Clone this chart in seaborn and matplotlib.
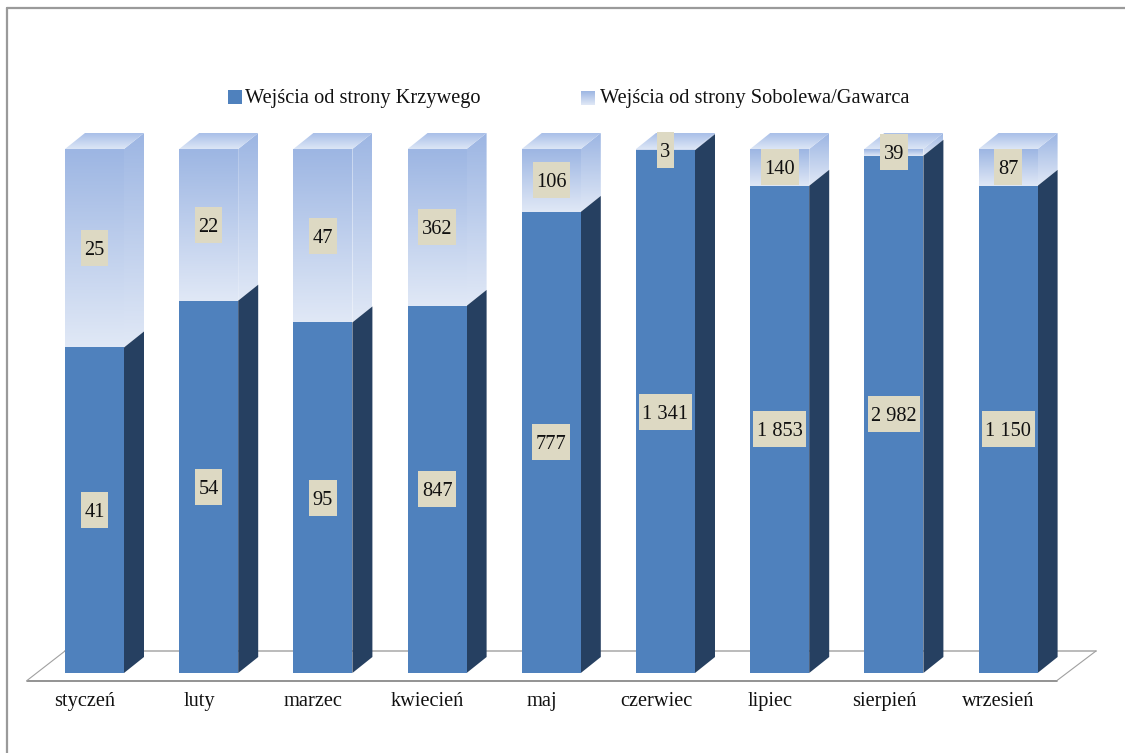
import numpy as np
import pandas as pd
import matplotlib.pyplot as plt
import seaborn as sns
from matplotlib.colors import LinearSegmentedColormap
from matplotlib.lines import Line2D
from matplotlib.patches import Polygon, Rectangle
from matplotlib.transforms import ScaledTranslation

months = ['styczeń', 'luty', 'marzec', 'kwiecień', 'maj', 'czerwiec', 'lipiec', 'sierpień', 'wrzesień']
krzywe = [41, 54, 95, 847, 777, 1341, 1853, 2982, 1150]
sobolew = [25, 22, 47, 362, 106, 3, 140, 39, 87]
name_krzywe = 'Wejścia od strony Krzywego'
name_sobolew = 'Wejścia od strony Sobolewa/Gawarca'

BLUE = '#4F81BD'
DARK = '#264061'
BOX = '#DDD9C3'
W, H = 1125, 753
FS = 14.7

sns.set_theme(style='white')
plt.rcParams['font.family'] = ['Liberation Serif', 'DejaVu Serif']

df = pd.DataFrame({'month': months, 'krzywe': krzywe, 'sobolew': sobolew})
df['total'] = df['krzywe'] + df['sobolew']
df['low'] = df['krzywe'] / df['total'] * 100
df['high'] = df['sobolew'] / df['total'] * 100

fig = plt.figure(figsize=(W / 100, H / 100), dpi=100, facecolor='white')
# axes box placed so the bar fronts land where they are in the picture,
# with 20px of headroom above 100% for the lids
ax = fig.add_axes([37.4 / W, 1 - 673 / H, 1027.8 / W, 544 / H])
ax.patch.set_alpha(0)


def fx(x):
    return x / W


def fy(y):
    return 1 - y / H


# frame and floor, in figure pixels
for xs, ys, col, lw in [
    ([6.5, 6.5], [753, 8], '#9A9A9A', 1.6),
    ([6.5, 1125], [8, 8], '#9A9A9A', 1.6),
    ([65, 1096], [651, 651], '#B5B5B5', 1.3),
    ([27, 1057], [680.5, 680.5], '#808080', 1.2),
    ([27, 65], [680.5, 651], '#A0A0A0', 0.8),
    ([1057, 1096], [680.5, 651], '#A0A0A0', 0.8),
]:
    fig.add_artist(Line2D([fx(v) for v in xs], [fy(v) for v in ys], color=col, lw=lw, zorder=0))

bar_w = 59 / 114.2
sns.barplot(data=df, x='month', y='low', color=BLUE, saturation=1, width=bar_w, ax=ax,
            zorder=3, linewidth=0, edgecolor='none')
n_low = len(ax.patches)
sns.barplot(data=df, x='month', y='high', bottom=df['low'], color=BLUE, saturation=1, width=bar_w, ax=ax,
            zorder=3, linewidth=0, edgecolor='none')
high_bars = ax.patches[n_low:]

ax.set_xlim(-0.5, 8.5)
ax.set_ylim(0, 544 / 524 * 100)
xlim, ylim = ax.get_xlim(), ax.get_ylim()

# depth of the 3d look, in axis units
dx = 20 / 114.2
dy = 16 / 524 * 100

fade = LinearSegmentedColormap.from_list('fade', ['#9DB6E3', '#E0E8F6'])
cap = LinearSegmentedColormap.from_list('cap', ['#A9BFE8', '#DCE6F6'])
ramp = np.linspace(0, 1, 64).reshape(-1, 1)


def fill(patch, cmap, extent):
    im = ax.imshow(ramp, cmap=cmap, aspect='auto', extent=extent, zorder=patch.get_zorder(),
                   interpolation='bilinear', vmin=0, vmax=1)
    im.set_clip_path(patch)


for i, row in df.iterrows():
    left = i - bar_w / 2
    right = i + bar_w / 2
    s = row['low']
    # pale side of the upper block
    side = Polygon([(right, s), (right + dx, s + dy), (right + dx, 100 + dy), (right, 100)],
                   facecolor='none', edgecolor='none', zorder=2)
    ax.add_patch(side)
    fill(side, fade, (right, right + dx, s, 100 + dy))
    # dark side of the lower block
    ax.add_patch(Polygon([(right, 0), (right + dx, dy), (right + dx, s + dy), (right, s)],
                         facecolor=DARK, edgecolor='none', zorder=2.5))
    # lid
    lid = Polygon([(left, 100), (left + dx, 100 + dy), (right + dx, 100 + dy), (right, 100)],
                  facecolor='none', edgecolor='none', zorder=2)
    ax.add_patch(lid)
    fill(lid, cap, (left, right + dx, 100, 100 + dy))
    # front of the upper block
    bar = high_bars[i]
    bar.set_facecolor('none')
    fill(bar, fade, (left, right, s, 100))

ax.set_xlim(xlim)
ax.set_ylim(ylim)
for sp in ax.spines.values():
    sp.set_visible(False)
ax.set_xlabel('')
ax.set_ylabel('')
ax.set_yticks([])
ax.tick_params(axis='x', length=0, pad=14, labelsize=FS, colors='#111111')
for lab in ax.get_xticklabels():
    lab.set_transform(lab.get_transform() + ScaledTranslation(-9.5 / 100, 0, fig.dpi_scale_trans))

# value labels on beige boxes
renderer = fig.canvas.get_renderer()
to_data = ax.transData.inverted()
for i, row in df.iterrows():
    for val, mid in [(row['krzywe'], row['low'] / 2), (row['sobolew'], row['low'] + row['high'] / 2)]:
        txt = ax.text(i, mid, f'{val:,}'.replace(',', '\u00a0'), ha='center', va='center_baseline',
                      fontsize=FS, color='#111111', zorder=6)
        ext = txt.get_window_extent(renderer)
        cx, cy = ax.transData.transform((i, mid))
        (x0, y0) = to_data.transform((cx - ext.width / 2 - 3.5, cy - 18))
        (x1, y1) = to_data.transform((cx + ext.width / 2 + 3.5, cy + 18))
        ax.add_patch(Rectangle((x0, y0), x1 - x0, y1 - y0, facecolor=BOX, edgecolor='none',
                               zorder=5, clip_on=False))

# legend
fig.add_artist(Rectangle((fx(228), fy(103.5)), 13.5 / W, 13.5 / H, transform=fig.transFigure,
                         facecolor=BLUE, edgecolor='none'))
fig.text(fx(245), fy(99), name_krzywe, fontsize=FS, va='center', color='#111111')
swatch = fig.add_axes([fx(581), fy(105), 14 / W, 14 / H])
swatch.imshow(ramp, cmap=fade, aspect='auto', vmin=0, vmax=1)
swatch.axis('off')
fig.text(fx(600), fy(99), name_sobolew, fontsize=FS, va='center', color='#111111')

fig.savefig('out.png', dpi=100, facecolor='white')
